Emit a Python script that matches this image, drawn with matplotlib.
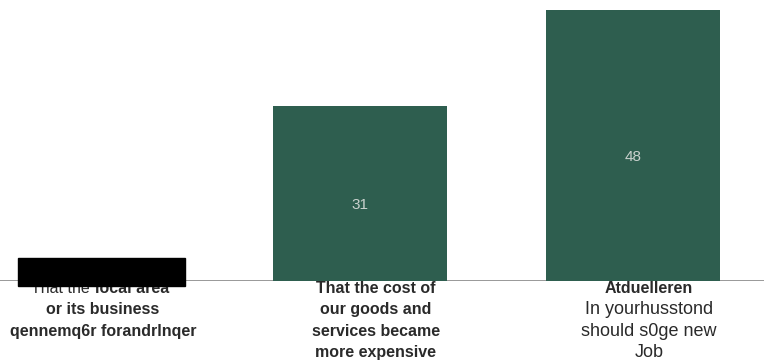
import matplotlib.pyplot as plt
from matplotlib.patches import Rectangle

plt.rcParams['font.family'] = ['Liberation Sans', 'DejaVu Sans']

# data
values = [0, 31, 48]
label_lines = [
    [("That the ", "normal", "local area"), ("or its business", "bold"), ("qennemq6r forandrlnqer", "bold")],
    [("That the cost of", "bold"), ("our goods and", "bold"), ("services became", "bold"), ("more expensive", "bold")],
    [("Atduelleren", "bold"), ("In yourhusstond", "normal"), ("should s0ge new", "normal"), ("Job", "normal")],
]

bar_color = "#2e5e4f"
text_color = "#2a2a2a"

fig = plt.figure(figsize=(7.64, 3.61), dpi=100)
ax = fig.add_axes([0.0, 1 - 281 / 361, 1.0, 281 / 361])

x = list(range(len(values)))
bars = ax.bar(x, values, width=0.64, color=bar_color, zorder=2)
ax.set_xlim(-87 / 273, (764 - 87) / 273)
ax.set_ylim(0, 281 / 5.65)
ax.axhline(0, color="#7a7a7a", lw=1.8, zorder=1)

for rect, v in zip(bars, values):
    if v > 0:
        ax.annotate(str(v), (rect.get_x() + rect.get_width() / 2, v / 2),
                    xytext=(0, -8), textcoords="offset points",
                    ha="center", va="center", color="#c9d1cd", fontsize=11)

# labels sit a little right of the bar centres
dx = 11.5
for i, lines in enumerate(label_lines):
    for j, line in enumerate(lines):
        dy = -8.8 - j * 15.3
        if len(line) == 3:
            ax.annotate(line[0], (i, 0), xytext=(dx - 6, dy), textcoords="offset points",
                        ha="right", va="baseline", fontsize=11.5, color=text_color,
                        fontweight=line[1], annotation_clip=False)
            ax.annotate(line[2], (i, 0), xytext=(dx - 6, dy), textcoords="offset points",
                        ha="left", va="baseline", fontsize=11.5, color=text_color,
                        fontweight="bold", annotation_clip=False)
        else:
            size = 11.5 if line[1] == "bold" else 13
            ax.annotate(line[0], (i, 0), xytext=(dx, dy), textcoords="offset points",
                        ha="center", va="baseline", fontsize=size, color=text_color,
                        fontweight=line[1], annotation_clip=False)

ax.axis("off")

# redaction block
fig.patches.append(Rectangle((18 / 764, 1 - 286 / 361), 167 / 764, 28 / 361,
                             transform=fig.transFigure, color="black", zorder=10))

fig.savefig("out.png", dpi=100)
